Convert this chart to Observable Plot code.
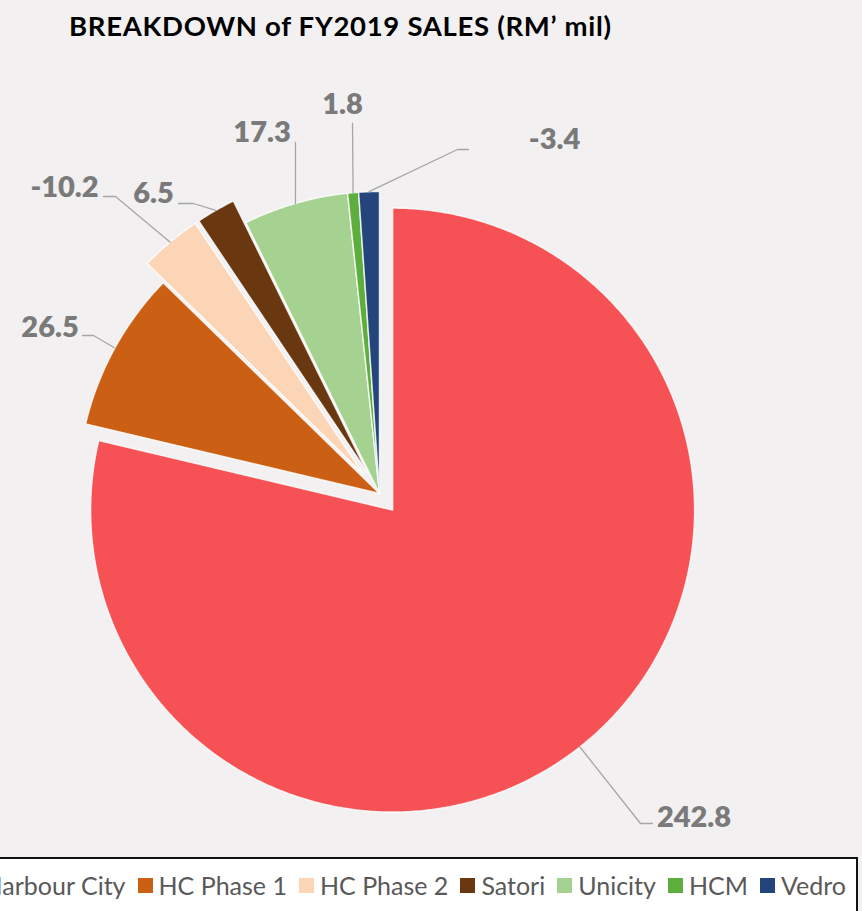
<!DOCTYPE html>
<html><head><meta charset="utf-8">
<script src="https://cdn.jsdelivr.net/npm/d3@7"></script>
<script src="https://cdn.jsdelivr.net/npm/@observablehq/plot@0.6"></script>
<style>
html,body{margin:0;padding:0;width:862px;height:911px;overflow:hidden;position:relative;background:#f2f0f1;font-family:Lato,sans-serif}
#title{position:absolute;left:69px;top:10px;font-weight:bold;font-size:27.5px;letter-spacing:0.7px;line-height:32px;color:#000;white-space:nowrap;font-family:Lato,sans-serif}
#chart{position:absolute;left:0;top:48px}
#legend{position:absolute;top:857px;left:-200px;right:4px;height:80px;border:2px solid #111;background:#fff;box-sizing:border-box}
#legend .lg-swatches{margin:0!important;font-family:Lato,sans-serif!important;font-size:25px!important;color:#595959!important}
#legend .lg-swatches-wrap{flex-wrap:nowrap!important;justify-content:flex-end;height:52px;padding-right:10px}
#legend .lg-swatch{margin-right:12px!important;white-space:nowrap}
#legend .lg-swatch:last-child{margin-right:0!important}
#legend .lg-swatch>svg{margin-right:6px!important}
</style></head><body>
<div id="title">BREAKDOWN of FY2019 SALES (RM’ mil)</div>
<div id="chart"></div>
<div id="legend"></div>
<script>
// ---- data ----
const categories = ["Harbour City","HC Phase 1","HC Phase 2","Satori","Unicity","HCM","Vedro"];
const sales = [242.8, 26.5, -10.2, 6.5, 17.3, 1.8, -3.4];
const colors = ["#f65155","#cb6015","#fbd5b5","#6a3810","#a5d191","#5eae3e","#23457c"];

// ---- layout (pixels relative to pie centre, radius R) ----
const R = 302;
const explode = [0.07, 0, 0.083, 0.083, 0, 0, 0];
const labelPos = [[314.5,324.5],[-329.5,-166],[-315,-306],[-226,-300],[-117.5,-360.5],[-37,-388.5],[175,-354]];
const leaderPts = [
  [[261,330],[273,330]],
  [[-286,-158],[-297,-158]],
  [[-264,-297],[-276,-297]],
  [[-186,-290],[-201,-290]],
  [[-84,-351],[-84,-351]],
  [[-27,-370],[-27,-370]],
  [[78,-344],[89,-344]]
];

const total = d3.sum(sales, v => Math.abs(v));
let acc = 0;
const slices = categories.map((name, i) => {
  const a0 = acc / total * 2 * Math.PI;
  acc += Math.abs(sales[i]);
  const a1 = acc / total * 2 * Math.PI;
  const mid = (a0 + a1) / 2;
  const ex = explode[i] * Math.sin(mid), ey = explode[i] * Math.cos(mid);
  return {name, value: sales[i], a0, a1, mid, ex, ey, e: explode[i]};
});

const piePts = [];
for (const s of slices) {
  piePts.push({name: s.name, x: s.ex, y: s.ey});
  const n = Math.max(2, Math.ceil((s.a1 - s.a0) / (Math.PI / 360)));
  for (let k = 0; k <= n; k++) {
    const t = s.a0 + (s.a1 - s.a0) * k / n;
    piePts.push({name: s.name, x: s.ex + Math.sin(t), y: s.ey + Math.cos(t)});
  }
}

const leaders = [];
slices.forEach((s, i) => {
  leaders.push({name: s.name, x: (1 + s.e) * Math.sin(s.mid), y: (1 + s.e) * Math.cos(s.mid)});
  for (const p of leaderPts[i]) leaders.push({name: s.name, x: p[0] / R, y: -p[1] / R});
});

const labels = slices.map((s, i) => ({name: s.name, text: String(s.value), x: labelPos[i][0] / R, y: -labelPos[i][1] / R}));

const cx = 379, cy = 445;
const plot = Plot.plot({
  width: 862, height: 809,
  marginTop: 0, marginRight: 0, marginBottom: 0, marginLeft: 0,
  x: {domain: [-1, 1], range: [cx - R, cx + R], axis: null},
  y: {domain: [-1, 1], range: [cy + R, cy - R], axis: null},
  color: {domain: categories, range: colors},
  style: {background: "transparent", overflow: "visible"},
  marks: [
    Plot.line(piePts, {x: "x", y: "y", z: "name", fill: "name", stroke: "#ffffff", strokeWidth: 1.5, strokeOpacity: 0.8, curve: "linear-closed"}),
    Plot.line(leaders, {x: "x", y: "y", z: "name", stroke: "#a6a6a6", strokeWidth: 1.3}),
    Plot.text(labels, {x: "x", y: "y", text: "text", fill: "#7a7a7a", fontSize: 29, fontWeight: 800, fontFamily: "Lato, sans-serif", textAnchor: "middle", lineAnchor: "middle"})
  ]
});
document.getElementById("chart").appendChild(plot);

const lg = Plot.legend({color: {type: "categorical", domain: categories, range: colors}, legend: "swatches", swatchSize: 15, className: "lg"});
document.getElementById("legend").appendChild(lg);
</script>
</body></html>
